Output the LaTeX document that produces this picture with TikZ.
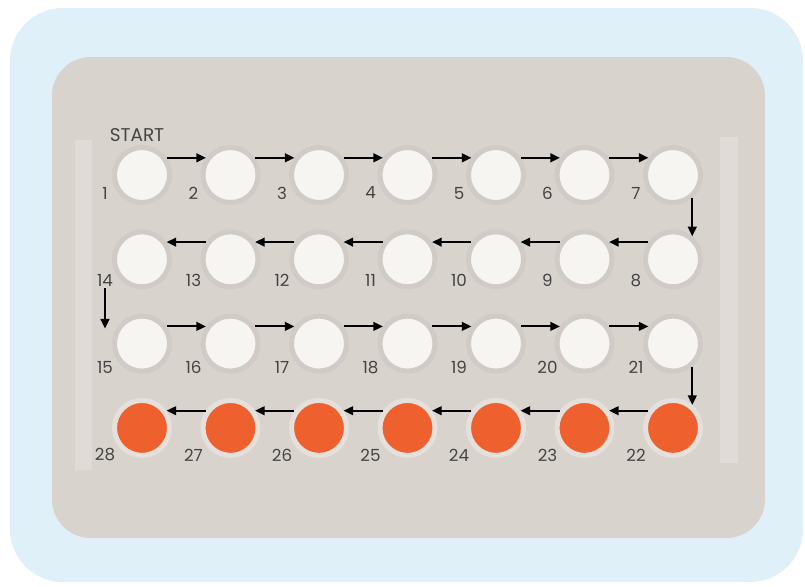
\documentclass[tikz,border=0pt]{standalone}
\usepackage{fontspec}
\setmainfont{Poppins}
\usetikzlibrary{arrows.meta,positioning,calc}
\definecolor{packBlue}{RGB}{224,240,248}
\definecolor{packGray}{RGB}{217,211,206}
\definecolor{packStrip}{RGB}{224,219,215}
\definecolor{pillWhite}{RGB}{247,245,242}
\definecolor{pillRing}{RGB}{209,203,199}
\definecolor{pillOrange}{RGB}{238,96,45}
\definecolor{pillHalo}{RGB}{229,224,220}
\definecolor{numGray}{RGB}{68,68,68}

\begin{document}
\begin{tikzpicture}[x=0.02cm, y=-0.02cm,
  pill/.style={circle, minimum size=1.1cm, line width=0.1cm, inner sep=0pt},
  num/.style={font=\fontsize{9.5}{11}\selectfont, text=numGray, inner sep=1pt},
  arr/.style={-{Triangle[length=5.5pt,width=5pt]}, line width=1.1pt}
]
  \useasboundingbox (0,0) rectangle (805,586);
  % card and blister
  \fill[packBlue, rounded corners=30pt] (10,8) rectangle (803,582);
  \fill[packGray, rounded corners=22pt] (52,57) rectangle (765,538);
  \fill[packStrip] (75,140) rectangle (92,470);
  \fill[packStrip] (720,137) rectangle (738,463);

  % pills, numbered as a snake
  \foreach \r in {0,...,3}
    \foreach \c in {0,...,6} {
      \pgfmathtruncatemacro\n{mod(\r,2)==0 ? 7*\r+\c+1 : 7*\r+7-\c}
      \ifnum\n>21 \def\pillcol{pillOrange}\def\ringcol{pillHalo}%
      \else \def\pillcol{pillWhite}\def\ringcol{pillRing}\fi
      \node[pill, fill=\pillcol, draw=\ringcol] (p\n) at (142+88.5*\c, 175+84.3*\r) {};
      \node[num] (l\n) at ($(p\n)+(-37,18+3*\r)$) {\n};
    }

  \node[num, font=\fontsize{10.5}{12}\selectfont, above=0.02cm of p1, xshift=-0.1cm] (start) {START};

  % direction of intake
  \foreach \a [evaluate=\a as \b using int(\a+1)] in {1,2,3,4,5,6,15,16,17,18,19,20}
    \draw[arr] (p\a.35) -- (p\b.145);
  \foreach \a [evaluate=\a as \b using int(\a+1)] in {8,9,10,11,12,13,22,23,24,25,26,27}
    \draw[arr] (p\a.145) -- (p\b.35);
  \draw[arr] (p7.-50) -- (p8.50);
  \draw[arr] (p21.-50) -- (p22.50);
  \draw[arr] (l14.south) -- (l14.south |- p15.150);
\end{tikzpicture}
\end{document}
